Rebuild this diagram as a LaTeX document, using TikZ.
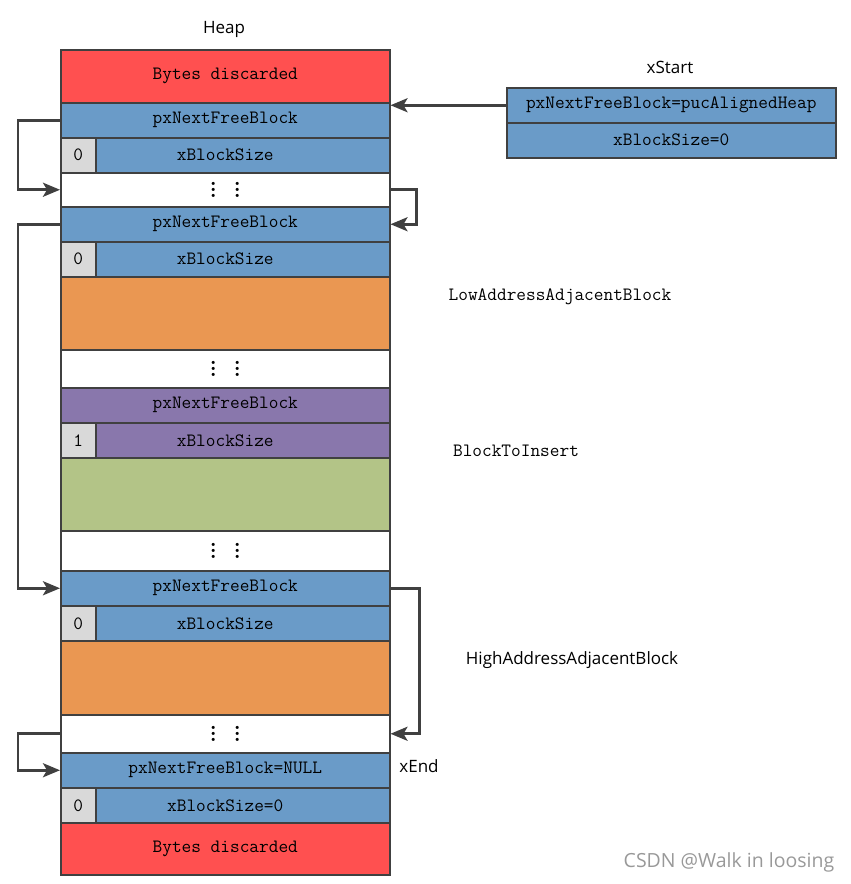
\documentclass[tikz,border=0pt]{standalone}
\usepackage{fontspec}
\newfontfamily\labelfont{Open Sans}
\usetikzlibrary{arrows.meta}
\definecolor{cred}{RGB}{255,80,80}
\definecolor{cblue}{RGB}{106,155,200}
\definecolor{cgray}{RGB}{217,217,217}
\definecolor{corange}{RGB}{234,151,82}
\definecolor{cpurple}{RGB}{137,119,172}
\definecolor{cgreen}{RGB}{179,196,135}
\definecolor{cline}{RGB}{64,64,64}
\tikzset{
  cell/.style={draw=cline, line width=1.5pt, inner sep=0pt, anchor=north west,
    minimum width=329pt, font=\fontsize{18.8}{20}\ttfamily},
  small/.style={draw=cline, line width=1.5pt, inner sep=0pt, anchor=north west,
    minimum width=35pt, minimum height=35pt, fill=cgray, font=\fontsize{18.8}{20}\ttfamily},
  xcell/.style={draw=cline, line width=1.5pt, inner sep=0pt, anchor=north west,
    minimum width=329pt, minimum height=35pt, fill=cblue, font=\fontsize{18.8}{20}\ttfamily},
  dotcell/.style={cell, fill=white, font=\fontsize{22}{24}\rmfamily\bfseries},
  lbl/.style={font=\fontsize{17}{19}\labelfont, inner sep=0pt},
  mlbl/.style={font=\fontsize{18.8}{20}\ttfamily, inner sep=0pt},
  conn/.style={draw=cline, line width=2.8pt, -{Stealth[length=17pt,width=14pt,inset=4pt]}},
}
\newcommand{\dcol}{\raisebox{-1pt}{\vbox{\baselineskip=6pt\lineskiplimit=-10pt\hbox{.}\hbox{.}\hbox{.}}}}
\newcommand{\vd}{\dcol\hspace{17pt}\dcol}
\begin{document}
\begin{tikzpicture}[x=1pt,y=-1pt]
\useasboundingbox (0,0) rectangle (851,884);
% heap column
\node[cell, fill=cred, minimum height=53pt] (bd1) at (60,49) {Bytes discarded};
\node[cell, fill=cblue, minimum height=35pt] (p1) at (60,102) {pxNextFreeBlock};
\node[cell, fill=cblue, minimum height=35pt] (s1) at (60,137) {xBlockSize};
\node[small] (g1) at (60,137) {0};
\node[dotcell, minimum height=34pt] (d1) at (60,172) {\vd};
\node[cell, fill=cblue, minimum height=35pt] (p2) at (60,206) {pxNextFreeBlock};
\node[cell, fill=cblue, minimum height=35pt] (s2) at (60,241) {xBlockSize};
\node[small] (g2) at (60,241) {0};
\node[cell, fill=corange, minimum height=73pt] (o1) at (60,276) {};
\node[dotcell, minimum height=38pt] (d2) at (60,349) {\vd};
\node[cell, fill=cpurple, minimum height=35pt] (p3) at (60,387) {pxNextFreeBlock};
\node[cell, fill=cpurple, minimum height=35pt] (s3) at (60,422) {xBlockSize};
\node[small] (g3) at (60,422) {1};
\node[cell, fill=cgreen, minimum height=73pt] (gr) at (60,457) {};
\node[dotcell, minimum height=40pt] (d3) at (60,530) {\vd};
\node[cell, fill=cblue, minimum height=35pt] (p4) at (60,570) {pxNextFreeBlock};
\node[cell, fill=cblue, minimum height=35pt] (s4) at (60,605) {xBlockSize};
\node[small] (g4) at (60,605) {0};
\node[cell, fill=corange, minimum height=74pt] (o2) at (60,640) {};
\node[dotcell, minimum height=38pt] (d4) at (60,714) {\vd};
\node[cell, fill=cblue, minimum height=35pt] (pn) at (60,752) {pxNextFreeBlock=NULL};
\node[cell, fill=cblue, minimum height=35pt] (sn) at (60,787) {xBlockSize=0};
\node[small] (gn) at (60,787) {0};
\node[cell, fill=cred, minimum height=52pt] (bd2) at (60,822) {Bytes discarded};
% xStart
\node[xcell] (xs1) at (506,87) {pxNextFreeBlock=pucAlignedHeap};
\node[xcell] (xs2) at (506,122) {xBlockSize=0};
% labels
\node[lbl] (heap) at (224,29) {Heap};
\node[lbl] (xstart) at (670,67) {xStart};
\node[lbl] (xend) at (419,766) {xEnd};
\node[mlbl] (low) at (560,297) {LowAddressAdjacentBlock};
\node[mlbl] (bti) at (516,451) {BlockToInsert};
\node[lbl] (high) at (572,660) {HighAddressAdjacentBlock};
\node[lbl, font=\fontsize{19.5}{21}\labelfont, text=gray!80] (wm) at (729,862) {CSDN @Walk in loosing};
% connectors
\draw[conn] (xs1.west) -- (xs1.west -| p1.east);
\draw[conn] (p1.west) -- ++(-42,0) |- (d1.west);
\draw[conn] (d1.east) -- ++(26,0) |- (p2.east);
\draw[conn] (p2.west) -- ++(-42,0) |- (p4.west);
\draw[conn] (p4.east) -- ++(29,0) |- (d4.east);
\draw[conn] (d4.west) -- ++(-42,0) |- (pn.west);
\end{tikzpicture}
\end{document}
